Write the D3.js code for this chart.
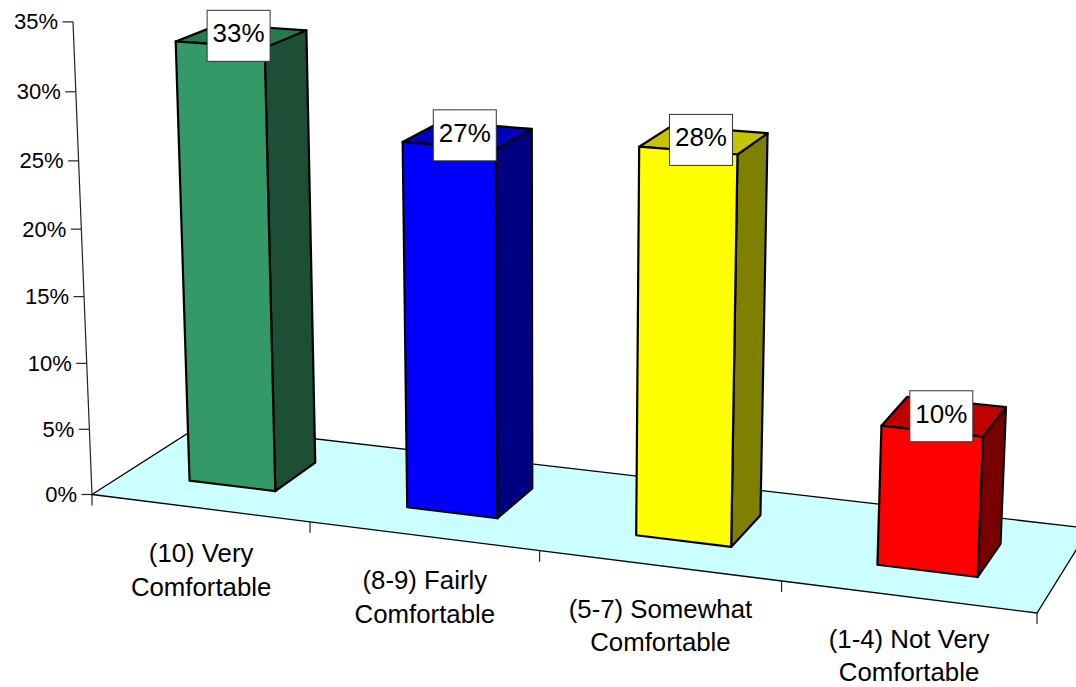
<!DOCTYPE html>
<html>
<head>
<meta charset="utf-8">
<script src="https://cdn.jsdelivr.net/npm/d3@7/dist/d3.min.js"></script>
<style>
  html, body { margin: 0; padding: 0; background: #fff; }
  svg { display: block; }
  text { font-family: "Liberation Sans", Arial, sans-serif; fill: #000; }
</style>
</head>
<body>
<svg id="chart" width="1076" height="687"></svg>
<script>
// Survey results
const categoryLines = [
  ["(10) Very", "Comfortable"],
  ["(8-9) Fairly", "Comfortable"],
  ["(5-7) Somewhat", "Comfortable"],
  ["(1-4) Not Very", "Comfortable"]
];
const values = [33, 27, 28, 10];
const frontColors = ["#339966", "#0000ff", "#ffff00", "#ff0000"];
const sideColors = ["#1c4f36", "#000080", "#808000", "#780000"];
const topColors = ["#267a50", "#0000c0", "#c4c400", "#c00000"];
const axisTicks = [0, 5, 10, 15, 20, 25, 30, 35];

// Camera: where the floor corners land, and the vanishing point of the verticals
const floorCorners = [[92, 494.5], [1037, 613], [1089.5, 528.5], [200, 425.5]];
const verticalVanish = [549, 11867];
const verticalWeight = -0.0399;

const [[x0, y0], [x1, y1], [x2, y2], [x3, y3]] = floorCorners;
const dx1 = x1 - x2, dx2 = x3 - x2, sx = x0 - x1 + x2 - x3;
const dy1 = y1 - y2, dy2 = y3 - y2, sy = y0 - y1 + y2 - y3;
const det = dx1 * dy2 - dx2 * dy1;
const g = (sx * dy2 - dx2 * sy) / det;
const h = (dx1 * sy - sx * dy1) / det;
const a = x1 - x0 + g * x1, b = x3 - x0 + h * x3;
const d = y1 - y0 + g * y1, e = y3 - y0 + h * y3;

// Scales in world units: u along the category axis, v into the floor, t upward
const uScale = d3.scaleLinear().domain([0, categoryLines.length]).range([0, 1]);
const tScale = d3.scaleLinear().domain([0, 35]).range([0, 1]);

// World to screen
function project(u, v, t) {
  const w = g * u + h * v + 1 + verticalWeight * t;
  return [
    (a * u + b * v + x0 + verticalWeight * verticalVanish[0] * t) / w,
    (d * u + e * v + y0 + verticalWeight * verticalVanish[1] * t) / w
  ];
}

const barHalfWidth = 0.2;   // in category slots
const barCentre = 0.502;
const barDepth = [0.3, 0.7];

const svg = d3.select("#chart");
const poly = pts => pts.map(p => p.map(n => n.toFixed(2)).join(",")).join(" ");

// Floor
svg.append("polygon")
  .attr("points", poly([project(0, 0, 0), project(1, 0, 0), project(1, 1, 0), project(0, 1, 0)]))
  .attr("fill", "#ccffff")
  .attr("stroke", "#000")
  .attr("stroke-width", 1.3);

// Bars: side and top first, then the front face
const bars = svg.append("g").selectAll("g").data(values).join("g")
  .attr("stroke", "#000").attr("stroke-width", 2.2).attr("stroke-linejoin", "round");

function corners(value, i) {
  const uL = uScale(i + barCentre - barHalfWidth), uR = uScale(i + barCentre + barHalfWidth);
  const t = tScale(value), [vF, vB] = barDepth;
  return { uL, uR, vF, vB, t };
}

bars.append("polygon")
  .attr("fill", (_, i) => sideColors[i])
  .attr("points", (v, i) => {
    const c = corners(v, i);
    return poly([project(c.uR, c.vF, 0), project(c.uR, c.vB, 0), project(c.uR, c.vB, c.t), project(c.uR, c.vF, c.t)]);
  });
bars.append("polygon")
  .attr("fill", (_, i) => topColors[i])
  .attr("points", (v, i) => {
    const c = corners(v, i);
    return poly([project(c.uL, c.vF, c.t), project(c.uR, c.vF, c.t), project(c.uR, c.vB, c.t), project(c.uL, c.vB, c.t)]);
  });
bars.append("polygon")
  .attr("fill", (_, i) => frontColors[i])
  .attr("points", (v, i) => {
    const c = corners(v, i);
    return poly([project(c.uL, c.vF, 0), project(c.uR, c.vF, 0), project(c.uR, c.vF, c.t), project(c.uL, c.vF, c.t)]);
  });

// Value axis
const axisColor = "#222";
const valueAxis = svg.append("g");
const [ax0, ay0] = project(0, 0, tScale(0));
const [ax1, ay1] = project(0, 0, tScale(35));
valueAxis.append("line")
  .attr("x1", ax0).attr("y1", ay0).attr("x2", ax1).attr("y2", ay1)
  .attr("stroke", axisColor).attr("stroke-width", 1.2);
axisTicks.forEach(tick => {
  const [tx, ty] = project(0, 0, tScale(tick));
  valueAxis.append("line")
    .attr("x1", tx - 10.5).attr("y1", ty).attr("x2", tx).attr("y2", ty)
    .attr("stroke", axisColor).attr("stroke-width", 1.2);
  valueAxis.append("text")
    .attr("x", tx - 15).attr("y", ty + 7.5)
    .attr("text-anchor", "end")
    .attr("font-size", 22)
    .text(tick + "%");
});

// Category axis ticks and labels
const categoryAxis = svg.append("g");
d3.range(categoryLines.length + 1).forEach(i => {
  const [tx, ty] = project(uScale(i), 0, 0);
  categoryAxis.append("line")
    .attr("x1", tx).attr("y1", ty).attr("x2", tx).attr("y2", ty + 11)
    .attr("stroke", axisColor).attr("stroke-width", 1.2);
});
categoryLines.forEach((lines, i) => {
  const [cx, cy] = project(uScale(i + 0.5), 0, 0);
  lines.forEach((line, j) => {
    categoryAxis.append("text")
      .attr("x", cx + 1.5).attr("y", cy + 54 - i * 1 + j * 33.7)
      .attr("text-anchor", "middle")
      .attr("font-size", 25.8)
      .text(line);
  });
});

// Value labels in white boxes over each bar's top face
const labels = svg.append("g").selectAll("g").data(values).join("g")
  .attr("transform", (v, i) => {
    const c = corners(v, i);
    const [lx, ly] = project((c.uL + c.uR) / 2, (c.vF + c.vB) / 2, c.t);
    return `translate(${lx - 3},${ly})`;
  });
labels.append("rect")
  .attr("x", -31.5).attr("y", -25.5).attr("width", 63).attr("height", 51)
  .attr("fill", "#fff").attr("stroke", "#333").attr("stroke-width", 1);
labels.append("text")
  .attr("y", 6.5).attr("text-anchor", "middle").attr("font-size", 26)
  .text(v => v + "%");
</script>
</body>
</html>
